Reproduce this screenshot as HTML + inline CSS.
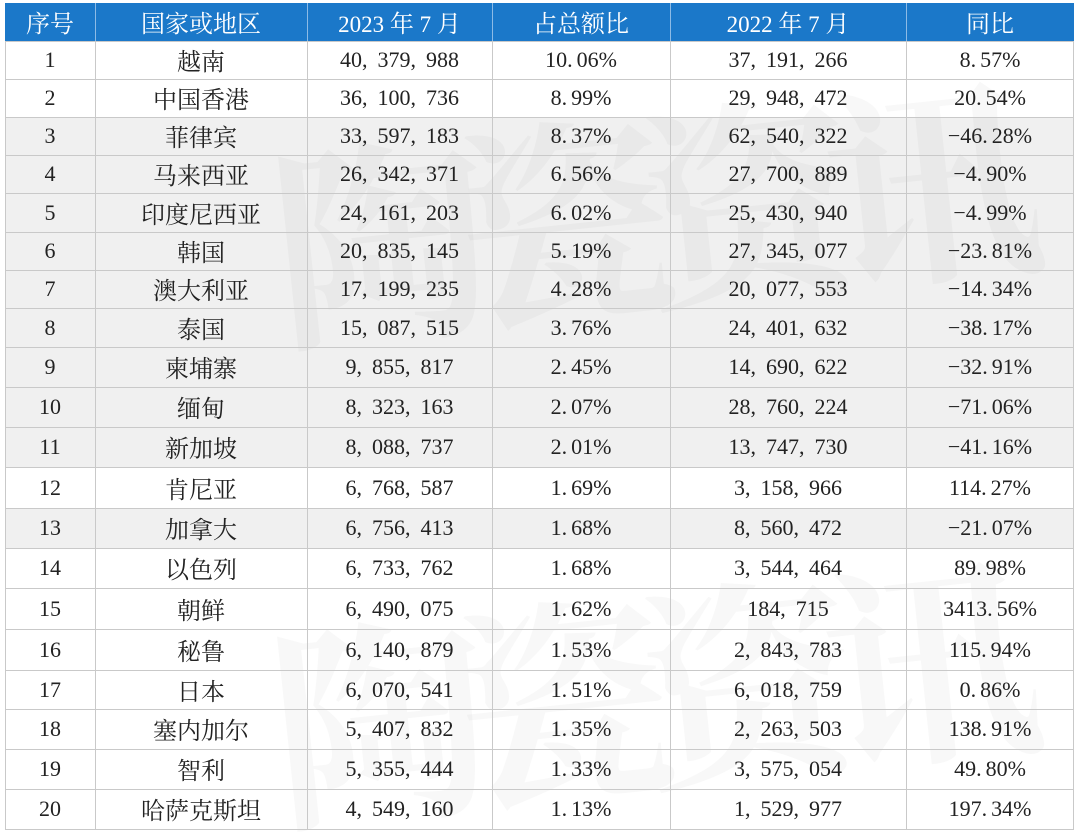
<!DOCTYPE html>
<html>
<head>
<meta charset="utf-8">
<style>
  html,body{margin:0;padding:0;background:#fff;width:1080px;height:835px;overflow:hidden;}
  body{position:relative;font-family:"Liberation Serif","Noto Serif CJK SC",serif;color:#222;}
  .bg{position:absolute;left:5px;width:1069px;background:#f0f0f0;}
  .hdr{position:absolute;left:5px;top:3px;width:1069px;height:38px;background:#1b78c9;}
  .r{position:absolute;left:5px;width:1069px;display:flex;font-size:22px;z-index:3;}
  .r > div{text-align:center;white-space:nowrap;}
  .w1{width:90px}.w2{width:212px}.w3{width:185px}.w4{width:178px}.w5{width:236px}.w6{width:168px}
  .zh{font-family:"Noto Serif CJK SC",serif;font-size:24px;}
  .h{color:#fff;font-size:23px;}
  .h .zh{font-size:24px;}
  .s{display:inline-block;width:10px;}
  .p{display:inline-block;width:4px;}
  .hl{position:absolute;left:5px;width:1069px;height:1px;background:#c9c9c9;z-index:2;}
  .vl{position:absolute;top:41px;height:789px;width:1px;background:#c9c9c9;z-index:2;}
  .hv{position:absolute;top:3px;height:38px;width:1px;background:#8dbbe6;z-index:2;}
  svg.wm{position:absolute;left:0;top:0;z-index:1;}
</style>
</head>
<body>
<div class="hdr"></div>
<div class="bg" style="top:117px;height:350px;"></div>
<div class="bg" style="top:508px;height:40px;"></div>

<svg class="wm" width="1080" height="835" viewBox="0 0 1080 835">
  <g font-family="Noto Serif CJK SC, serif" font-weight="bold" font-size="215" fill="#000" fill-opacity="0.028" letter-spacing="-30">
    <text x="270" y="300" transform="rotate(-6 600 200)">陶瓷资讯</text>
    <text x="270" y="780" transform="rotate(-6 600 690)">陶瓷资讯</text>
  </g>
</svg>

<div class="hv" style="left:95px"></div>
<div class="hv" style="left:307px"></div>
<div class="hv" style="left:492px"></div>
<div class="hv" style="left:670px"></div>
<div class="hv" style="left:906px"></div>

<div class="vl" style="left:5px"></div>
<div class="vl" style="left:95px"></div>
<div class="vl" style="left:307px"></div>
<div class="vl" style="left:492px"></div>
<div class="vl" style="left:670px"></div>
<div class="vl" style="left:906px"></div>
<div class="vl" style="left:1073px"></div>

<div class="hl" style="top:41px"></div>
<div class="hl" style="top:79px"></div>
<div class="hl" style="top:117px"></div>
<div class="hl" style="top:155px"></div>
<div class="hl" style="top:193px"></div>
<div class="hl" style="top:232px"></div>
<div class="hl" style="top:270px"></div>
<div class="hl" style="top:308px"></div>
<div class="hl" style="top:347px"></div>
<div class="hl" style="top:387px"></div>
<div class="hl" style="top:427px"></div>
<div class="hl" style="top:467px"></div>
<div class="hl" style="top:508px"></div>
<div class="hl" style="top:548px"></div>
<div class="hl" style="top:588px"></div>
<div class="hl" style="top:629px"></div>
<div class="hl" style="top:670px"></div>
<div class="hl" style="top:709px"></div>
<div class="hl" style="top:749px"></div>
<div class="hl" style="top:789px"></div>
<div class="hl" style="top:829px"></div>

<div class="r h" style="top:3px;height:38px;line-height:38px;">
  <div class="w1 zh">序号</div><div class="w2 zh">国家或地区</div><div class="w3">2023 <span class="zh">年</span> 7 <span class="zh">月</span></div><div class="w4 zh">占总额比</div><div class="w5">2022 <span class="zh">年</span> 7 <span class="zh">月</span></div><div class="w6 zh">同比</div>
</div>

<div class="r" style="top:41px;height:38px;line-height:38px;"><div class="w1">1</div><div class="w2 zh">越南</div><div class="w3">40,<span class="s"></span>379,<span class="s"></span>988</div><div class="w4">10.<span class="p"></span>06%</div><div class="w5">37,<span class="s"></span>191,<span class="s"></span>266</div><div class="w6">8.<span class="p"></span>57%</div></div>
<div class="r" style="top:79px;height:38px;line-height:38px;"><div class="w1">2</div><div class="w2 zh">中国香港</div><div class="w3">36,<span class="s"></span>100,<span class="s"></span>736</div><div class="w4">8.<span class="p"></span>99%</div><div class="w5">29,<span class="s"></span>948,<span class="s"></span>472</div><div class="w6">20.<span class="p"></span>54%</div></div>
<div class="r" style="top:117px;height:38px;line-height:38px;"><div class="w1">3</div><div class="w2 zh">菲律宾</div><div class="w3">33,<span class="s"></span>597,<span class="s"></span>183</div><div class="w4">8.<span class="p"></span>37%</div><div class="w5">62,<span class="s"></span>540,<span class="s"></span>322</div><div class="w6">&#8722;46.<span class="p"></span>28%</div></div>
<div class="r" style="top:155px;height:38px;line-height:38px;"><div class="w1">4</div><div class="w2 zh">马来西亚</div><div class="w3">26,<span class="s"></span>342,<span class="s"></span>371</div><div class="w4">6.<span class="p"></span>56%</div><div class="w5">27,<span class="s"></span>700,<span class="s"></span>889</div><div class="w6">&#8722;4.<span class="p"></span>90%</div></div>
<div class="r" style="top:193px;height:39px;line-height:39px;"><div class="w1">5</div><div class="w2 zh">印度尼西亚</div><div class="w3">24,<span class="s"></span>161,<span class="s"></span>203</div><div class="w4">6.<span class="p"></span>02%</div><div class="w5">25,<span class="s"></span>430,<span class="s"></span>940</div><div class="w6">&#8722;4.<span class="p"></span>99%</div></div>
<div class="r" style="top:232px;height:38px;line-height:38px;"><div class="w1">6</div><div class="w2 zh">韩国</div><div class="w3">20,<span class="s"></span>835,<span class="s"></span>145</div><div class="w4">5.<span class="p"></span>19%</div><div class="w5">27,<span class="s"></span>345,<span class="s"></span>077</div><div class="w6">&#8722;23.<span class="p"></span>81%</div></div>
<div class="r" style="top:270px;height:38px;line-height:38px;"><div class="w1">7</div><div class="w2 zh">澳大利亚</div><div class="w3">17,<span class="s"></span>199,<span class="s"></span>235</div><div class="w4">4.<span class="p"></span>28%</div><div class="w5">20,<span class="s"></span>077,<span class="s"></span>553</div><div class="w6">&#8722;14.<span class="p"></span>34%</div></div>
<div class="r" style="top:308px;height:39px;line-height:39px;"><div class="w1">8</div><div class="w2 zh">泰国</div><div class="w3">15,<span class="s"></span>087,<span class="s"></span>515</div><div class="w4">3.<span class="p"></span>76%</div><div class="w5">24,<span class="s"></span>401,<span class="s"></span>632</div><div class="w6">&#8722;38.<span class="p"></span>17%</div></div>
<div class="r" style="top:347px;height:40px;line-height:40px;"><div class="w1">9</div><div class="w2 zh">柬埔寨</div><div class="w3">9,<span class="s"></span>855,<span class="s"></span>817</div><div class="w4">2.<span class="p"></span>45%</div><div class="w5">14,<span class="s"></span>690,<span class="s"></span>622</div><div class="w6">&#8722;32.<span class="p"></span>91%</div></div>
<div class="r" style="top:387px;height:40px;line-height:40px;"><div class="w1">10</div><div class="w2 zh">缅甸</div><div class="w3">8,<span class="s"></span>323,<span class="s"></span>163</div><div class="w4">2.<span class="p"></span>07%</div><div class="w5">28,<span class="s"></span>760,<span class="s"></span>224</div><div class="w6">&#8722;71.<span class="p"></span>06%</div></div>
<div class="r" style="top:427px;height:40px;line-height:40px;"><div class="w1">11</div><div class="w2 zh">新加坡</div><div class="w3">8,<span class="s"></span>088,<span class="s"></span>737</div><div class="w4">2.<span class="p"></span>01%</div><div class="w5">13,<span class="s"></span>747,<span class="s"></span>730</div><div class="w6">&#8722;41.<span class="p"></span>16%</div></div>
<div class="r" style="top:467px;height:41px;line-height:41px;"><div class="w1">12</div><div class="w2 zh">肯尼亚</div><div class="w3">6,<span class="s"></span>768,<span class="s"></span>587</div><div class="w4">1.<span class="p"></span>69%</div><div class="w5">3,<span class="s"></span>158,<span class="s"></span>966</div><div class="w6">114.<span class="p"></span>27%</div></div>
<div class="r" style="top:508px;height:40px;line-height:40px;"><div class="w1">13</div><div class="w2 zh">加拿大</div><div class="w3">6,<span class="s"></span>756,<span class="s"></span>413</div><div class="w4">1.<span class="p"></span>68%</div><div class="w5">8,<span class="s"></span>560,<span class="s"></span>472</div><div class="w6">&#8722;21.<span class="p"></span>07%</div></div>
<div class="r" style="top:548px;height:40px;line-height:40px;"><div class="w1">14</div><div class="w2 zh">以色列</div><div class="w3">6,<span class="s"></span>733,<span class="s"></span>762</div><div class="w4">1.<span class="p"></span>68%</div><div class="w5">3,<span class="s"></span>544,<span class="s"></span>464</div><div class="w6">89.<span class="p"></span>98%</div></div>
<div class="r" style="top:588px;height:41px;line-height:41px;"><div class="w1">15</div><div class="w2 zh">朝鲜</div><div class="w3">6,<span class="s"></span>490,<span class="s"></span>075</div><div class="w4">1.<span class="p"></span>62%</div><div class="w5">184,<span class="s"></span>715</div><div class="w6">3413.<span class="p"></span>56%</div></div>
<div class="r" style="top:629px;height:41px;line-height:41px;"><div class="w1">16</div><div class="w2 zh">秘鲁</div><div class="w3">6,<span class="s"></span>140,<span class="s"></span>879</div><div class="w4">1.<span class="p"></span>53%</div><div class="w5">2,<span class="s"></span>843,<span class="s"></span>783</div><div class="w6">115.<span class="p"></span>94%</div></div>
<div class="r" style="top:670px;height:39px;line-height:39px;"><div class="w1">17</div><div class="w2 zh">日本</div><div class="w3">6,<span class="s"></span>070,<span class="s"></span>541</div><div class="w4">1.<span class="p"></span>51%</div><div class="w5">6,<span class="s"></span>018,<span class="s"></span>759</div><div class="w6">0.<span class="p"></span>86%</div></div>
<div class="r" style="top:709px;height:40px;line-height:40px;"><div class="w1">18</div><div class="w2 zh">塞内加尔</div><div class="w3">5,<span class="s"></span>407,<span class="s"></span>832</div><div class="w4">1.<span class="p"></span>35%</div><div class="w5">2,<span class="s"></span>263,<span class="s"></span>503</div><div class="w6">138.<span class="p"></span>91%</div></div>
<div class="r" style="top:749px;height:40px;line-height:40px;"><div class="w1">19</div><div class="w2 zh">智利</div><div class="w3">5,<span class="s"></span>355,<span class="s"></span>444</div><div class="w4">1.<span class="p"></span>33%</div><div class="w5">3,<span class="s"></span>575,<span class="s"></span>054</div><div class="w6">49.<span class="p"></span>80%</div></div>
<div class="r" style="top:789px;height:40px;line-height:40px;"><div class="w1">20</div><div class="w2 zh">哈萨克斯坦</div><div class="w3">4,<span class="s"></span>549,<span class="s"></span>160</div><div class="w4">1.<span class="p"></span>13%</div><div class="w5">1,<span class="s"></span>529,<span class="s"></span>977</div><div class="w6">197.<span class="p"></span>34%</div></div>
</body>
</html>
